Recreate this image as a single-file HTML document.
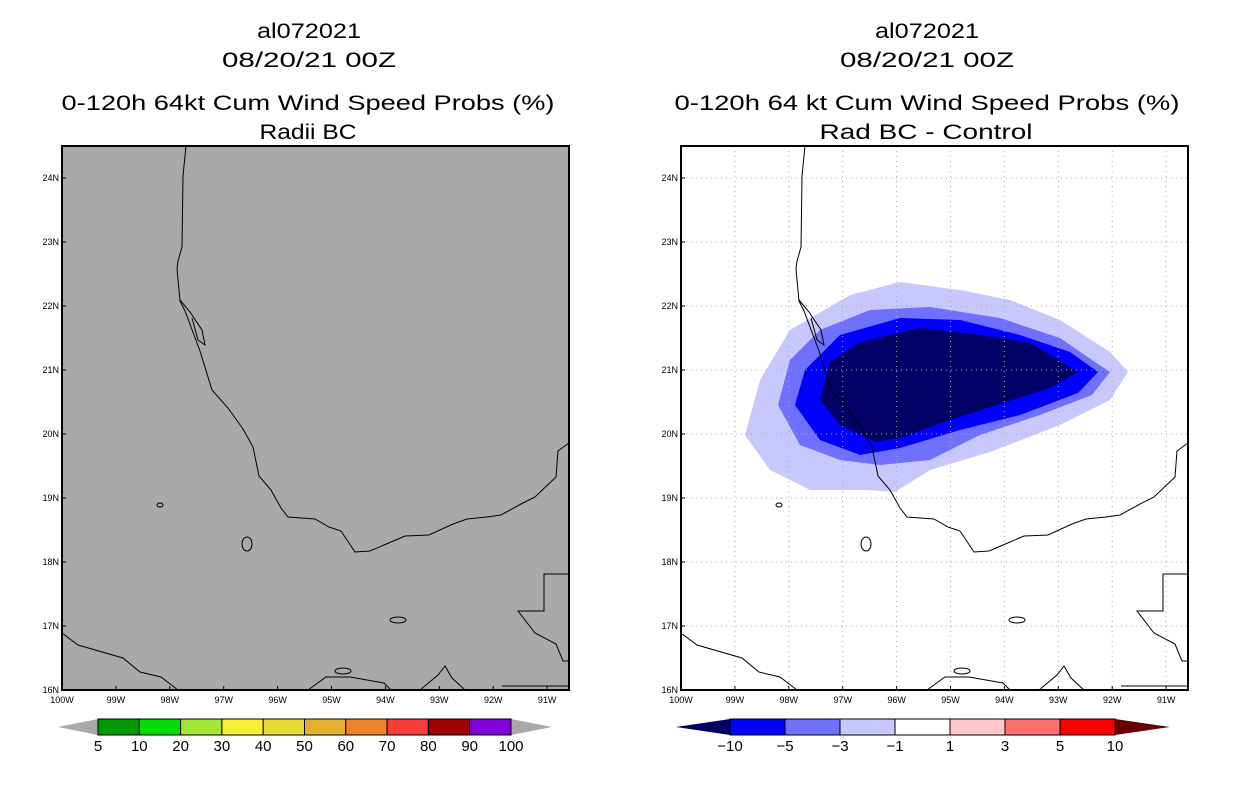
<!DOCTYPE html>
<html><head><meta charset="utf-8"><style>
body{margin:0;background:#fff;}
svg{display:block;font-family:"Liberation Sans",sans-serif;}
.t{font-size:21px;text-anchor:middle;fill:#000;}
.tk{font-size:9px;fill:#000;}
.cb{font-size:15px;text-anchor:middle;}
</style></head><body>
<svg id="s" width="1236" height="800" viewBox="0 0 1236 800">
<g>
<text class="t" x="309" y="38" textLength="104" lengthAdjust="spacingAndGlyphs">al072021</text>
<text class="t" x="309" y="67" textLength="174" lengthAdjust="spacingAndGlyphs">08/20/21 00Z</text>
<text class="t" x="308" y="110" textLength="493" lengthAdjust="spacingAndGlyphs">0-120h 64kt Cum Wind Speed Probs (%)</text>
<text class="t" x="308" y="139" textLength="97" lengthAdjust="spacingAndGlyphs">Radii BC</text>
</g>
<g>
<text class="t" x="927" y="38" textLength="104" lengthAdjust="spacingAndGlyphs">al072021</text>
<text class="t" x="927" y="67" textLength="174" lengthAdjust="spacingAndGlyphs">08/20/21 00Z</text>
<text class="t" x="927" y="110" textLength="505" lengthAdjust="spacingAndGlyphs">0-120h 64 kt Cum Wind Speed Probs (%)</text>
<text class="t" x="926" y="139" textLength="213" lengthAdjust="spacingAndGlyphs">Rad BC - Control</text>
</g>
<rect x="62" y="146" width="507" height="544" fill="#a9a9a9"/>
<rect x="681" y="146" width="507" height="544" fill="#fff"/>
<g id="contours"></g>
<g id="grid"></g>
<g id="coastL"></g>
<g id="coastR"></g>
<rect x="62" y="146" width="507" height="544" fill="none" stroke="#000" stroke-width="2"/>
<rect x="681" y="146" width="507" height="544" fill="none" stroke="#000" stroke-width="2"/>
<g id="ticks"></g>
<g id="cbL"></g>
<g id="cbR"></g>
</svg>
<script>
const lonLabels=["100W","99W","98W","97W","96W","95W","94W","93W","92W","91W"];
const latLabels=["16N","17N","18N","19N","20N","21N","22N","23N","24N"];
const leftLevels=["5","10","20","30","40","50","60","70","80","90","100"];
const leftColors=["#009900","#00dd00","#a0e632","#f5f032","#e6dc32","#e6af2d","#f08228","#fa3c3c","#a00000","#8200dc"];
const rightLevels=["-10","-5","-3","-1","1","3","5","10"];
const rightColors=["#0000ff","#7070ff","#c8c8ff","#ffffff","#ffc8c8","#ff7070","#ff0000"];
const NS="http://www.w3.org/2000/svg";
function mk(p,t,a){const e=document.createElementNS(NS,t);for(const k in a)e.setAttribute(k,a[k]);p.appendChild(e);return e;}
const X0=[62,681],PX=53.9,Y0=690,PY=64;
const ticks=document.getElementById('ticks'),grid=document.getElementById('grid');
[0,1].forEach(p=>{
 lonLabels.forEach((l,i)=>{const x=X0[p]+i*PX;
  const t=mk(ticks,'text',{x:x,y:703,'class':'tk','text-anchor':'middle'});t.textContent=l;
  
  
  mk(ticks,'line',{x1:x,x2:x,y1:690,y2:686,stroke:'#000'});
  if(p==1&&i>0){const g=mk(grid,'line',{x1:x,x2:x,y1:146,y2:690,stroke:'#aaa','stroke-dasharray':'1,4'});
   
   }
 });
 latLabels.forEach((l,i)=>{const y=Y0-i*PY;
  const t=mk(ticks,'text',{x:X0[p]-3,y:y+3,'class':'tk','text-anchor':'end'});t.textContent=l;
  
  
  mk(ticks,'line',{x1:X0[p],x2:X0[p]+4,y1:y,y2:y,stroke:'#000'});
  if(p==1&&i>0){const g=mk(grid,'line',{x1:681,x2:1188,y1:y,y2:y,stroke:'#aaa','stroke-dasharray':'1,4'});
   
   }
 });
});
const cont=[
 ["#c8c8ff","745,435 760,380 790,330 850,295 900,282 960,290 1010,300 1060,320 1110,352 1128,372 1110,400 1060,425 990,452 930,470 895,492 865,490 810,490 770,470"],
 ["#7070ff","778,405 790,360 820,330 870,310 930,307 1000,318 1060,338 1095,362 1110,372 1092,395 1040,415 980,435 930,460 880,465 840,460 800,445"],
 ["#0000ff","795,405 805,370 840,335 900,318 960,320 1020,335 1070,352 1098,372 1078,393 1020,415 960,430 900,448 860,455 820,440"],
 ["#000066","820,400 830,362 860,342 920,328 980,335 1030,343 1078,372 1050,388 1000,404 950,420 900,438 875,442 840,425"]];
const cg=document.getElementById('contours');
cont.forEach(c=>{const e=mk(cg,'polygon',{points:c[1],fill:c[0]});
 
 });
const lines=[
 "186,146 183,176 182,247 178,261 177,269 180,301 185,311 200,351 212,390 228,408 243,429 253,447 259,476 271,490 281,508 288,517 315,519 329,527 341,531 355,552 370,551 384,545 405,536 429,535 453,524 467,519 487,517 501,515 521,504 535,497 556,477 558,451 569,443",
 "62,633 78,645 123,658 140,672 161,677 178,690",
 "308,690 326,677 350,677 384,683 391,690",
 "569,574 544,574 544,611 518,611 535,633 556,644 563,661 569,661",
 "502,686 569,686",
 "420,690 438,675 445,666 452,678 465,690",
 "180,300 190,312 202,330 205,345 198,340 192,318"];
[[0,'coastL'],[619,'coastR']].forEach(([dx,id])=>{const g=document.getElementById(id);
 lines.forEach(l=>{const pts=l.split(' ').map(s=>{const [a,b]=s.split(',');return (+a+dx)+','+b;}).join(' ');
  const e=mk(g,'polyline',{points:pts,fill:'none',stroke:'#000','stroke-width':1});
  
  });
 [[247,544,5,7],[398,620,8,3],[160,505,3,2],[343,671,8,3]].forEach(a=>{const e=mk(g,'ellipse',{cx:a[0]+dx,cy:a[1],rx:a[2],ry:a[3],fill:'none',stroke:'#000'});
  
  });
});
function cbar(id,x0,x1,tipL,tipR,cols,labs,lc,rc){const g=document.getElementById(id);const w=(x1-x0)/cols.length;
 const a=mk(g,'polygon',{points:`${tipL},727 ${x0},719 ${x0},735`,fill:lc});
 const b=mk(g,'polygon',{points:`${tipR},727 ${x1},719 ${x1},735`,fill:rc});
 cols.forEach((c,i)=>{const r=mk(g,'rect',{x:x0+i*w,y:719,width:w,height:16,fill:c,stroke:'#000'});
  });
 labs.forEach((l,i)=>{const t=mk(g,'text',{x:x0+i*w,y:751,'class':'cb'});t.textContent=l.replace('-','\u2212');
  });
}
cbar('cbL',98,511,58,552,leftColors,leftLevels,'#a9a9a9','#a9a9a9');
cbar('cbR',730,1115,676,1170,rightColors,rightLevels,'#000066','#660000');
</script>
</body></html>
